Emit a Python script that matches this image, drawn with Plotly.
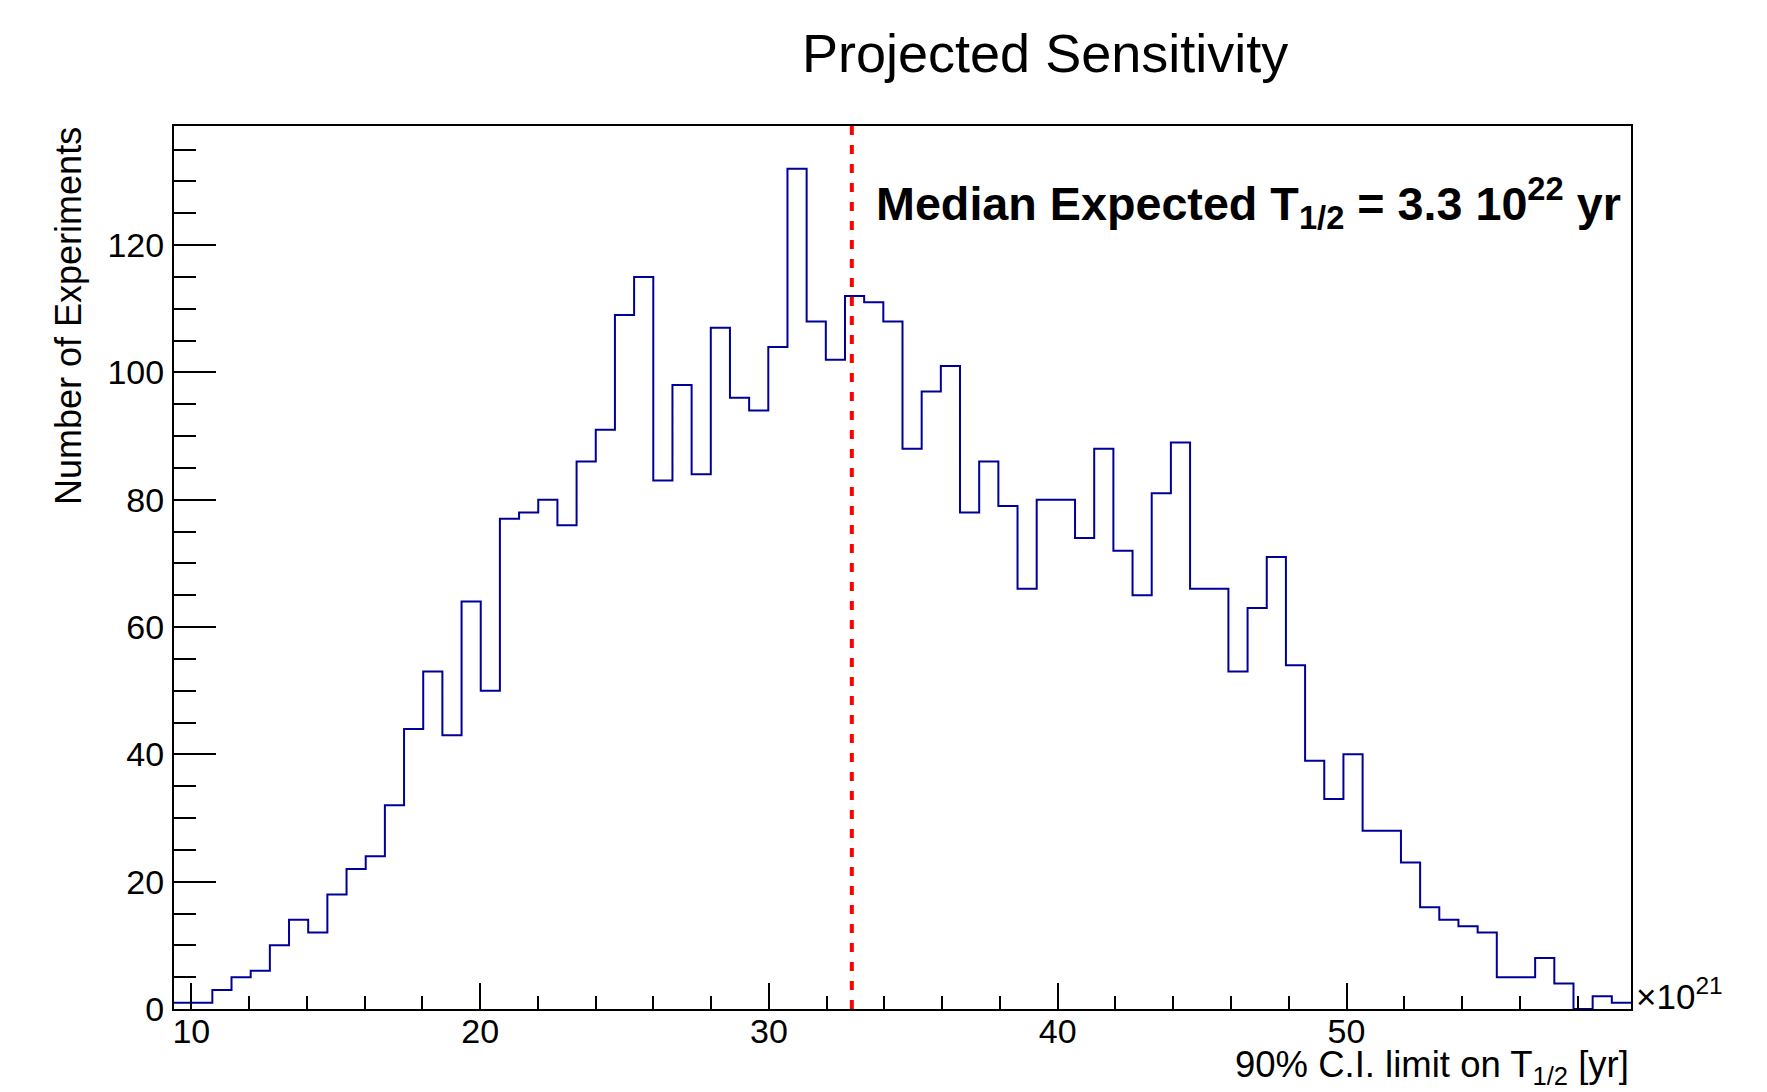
import numpy as np
import plotly.graph_objects as go

# Histogram data (x in units of 10^21 yr)
counts = [1, 1, 3, 5, 6, 10, 14, 12, 18, 22,
          24, 32, 44, 53, 43, 64, 50, 77, 78, 80,
          76, 86, 91, 109, 115, 83, 98, 84, 107, 96,
          94, 104, 132, 108, 102, 112, 111, 108, 88, 97,
          101, 78, 86, 79, 66, 80, 80, 74, 88, 72,
          65, 81, 89, 66, 66, 53, 63, 71, 54, 39,
          33, 40, 28, 28, 23, 16, 14, 13, 12, 5,
          5, 8, 4, 0, 2, 1]
x_low = 9.40
x_high = 59.85
median_value = 32.87
x_ticks = [10, 20, 30, 40, 50]
y_ticks = [0, 20, 40, 60, 80, 100, 120]

edges = np.linspace(x_low, x_high, len(counts) + 1)
ys = counts + [counts[-1]]

FONT = "Liberation Sans, Arial, Helvetica, sans-serif"

fig = go.Figure()
fig.add_trace(go.Scatter(
    x=edges, y=ys, mode="lines", line_shape="hv",
    line=dict(color="#000099", width=2), hoverinfo="skip", showlegend=False))

fig.add_shape(type="line", xref="x", yref="paper", x0=median_value, x1=median_value,
              y0=0, y1=1, line=dict(color="#ff0000", width=4, dash="9px,10px"), layer="above")

W, H = 1767, 1092
L, R, T, B = 174, 136, 126, 83
pw, ph = W - L - R, H - T - B

def px_x(px):
    return (px - L) / pw

def px_y(py):
    return (H - B - py) / ph

fig.update_layout(
    width=W, height=H,
    margin=dict(l=L, r=R, t=T, b=B),
    paper_bgcolor="white", plot_bgcolor="white",
    font=dict(family=FONT, color="black"),
    xaxis=dict(range=[x_low, x_high], tickvals=x_ticks, ticks="inside", ticklen=26,
               tickwidth=2, tickcolor="black", showgrid=False, zeroline=False,
               showline=True, linecolor="black", linewidth=2, mirror=True,
               tickfont=dict(size=34, family=FONT), ticklabelstandoff=-9,
               minor=dict(dtick=2, tick0=0, ticks="inside", ticklen=13, tickwidth=2,
                          tickcolor="black", showgrid=False)),
    yaxis=dict(range=[0, 138.7], tickvals=y_ticks, ticks="inside", ticklen=42,
               tickwidth=2, tickcolor="black", showgrid=False, zeroline=False,
               showline=True, linecolor="black", linewidth=2, mirror=True,
               tickfont=dict(size=34, family=FONT), ticklabelstandoff=1,
               minor=dict(dtick=5, tick0=0, ticks="inside", ticklen=22, tickwidth=2,
                          tickcolor="black", showgrid=False)),
)

fig.add_annotation(text="Projected Sensitivity", xref="paper", yref="paper",
                   x=px_x(1045), y=px_y(53), xanchor="center", yanchor="middle",
                   showarrow=False, font=dict(size=54, family=FONT))
fig.add_annotation(text="Number of Experiments", xref="paper", yref="paper",
                   x=px_x(68), y=px_y(316), xanchor="center", yanchor="middle",
                   textangle=-90, showarrow=False, font=dict(size=36, family=FONT))
fig.add_annotation(text="90% C.I. limit on T<sub>1/2</sub> [yr]", xref="paper", yref="paper",
                   x=1.0, y=px_y(1042), xanchor="right", yanchor="top",
                   showarrow=False, font=dict(size=36.5, family=FONT))
fig.add_annotation(text="×10<sup>21</sup>", xref="paper", yref="paper",
                   x=px_x(1634), y=px_y(994), xanchor="left", yanchor="middle",
                   showarrow=False, font=dict(size=35, family=FONT))
fig.add_annotation(text="<b>Median Expected T<sub>1/2</sub> = 3.3 10<sup>22</sup> yr</b>",
                   xref="paper", yref="paper",
                   x=px_x(874), y=px_y(203), xanchor="left", yanchor="middle",
                   showarrow=False, font=dict(size=46.7, family=FONT))

fig.write_html("out.html")
